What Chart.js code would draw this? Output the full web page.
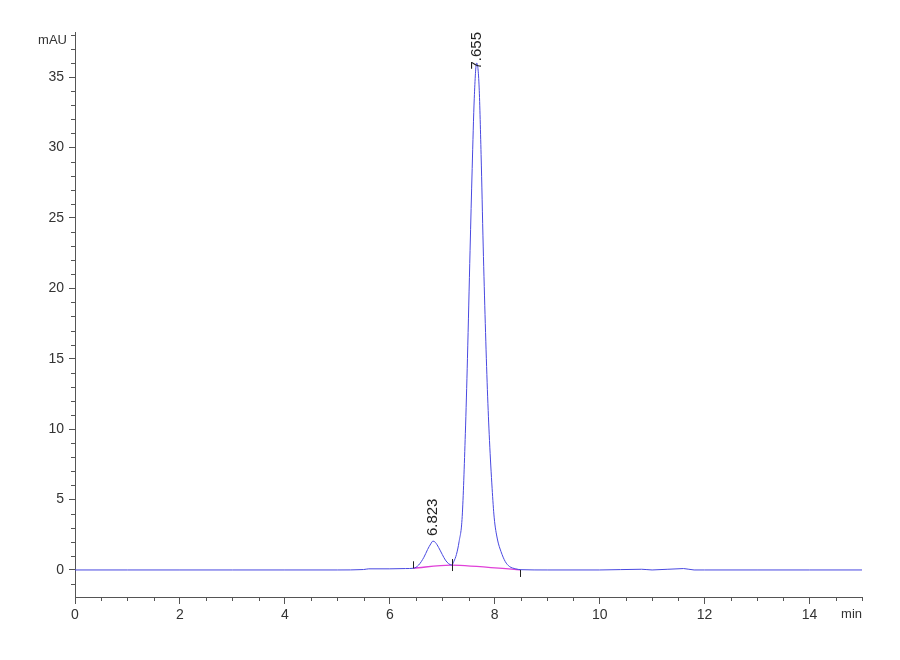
<!DOCTYPE html>
<html>
<head>
<meta charset="utf-8">
<script src="https://cdn.jsdelivr.net/npm/chart.js@4/dist/chart.umd.min.js"></script>
<style>
  body { margin: 0; background: #fff; }
  #wrap { width: 900px; height: 660px; }
</style>
</head>
<body>
<div id="wrap"><canvas id="chromChart"></canvas></div>
<script>
// retention time (min) and detector signal (mAU)
var times  = [0, 1, 2, 3, 4, 5, 5.5, 5.6, 6.0, 6.3, 6.45, 6.55, 6.65, 6.72, 6.78, 6.823, 6.87, 6.93, 7.0, 7.06, 7.12, 7.18,
              7.22, 7.27, 7.32, 7.38, 7.44, 7.48, 7.53, 7.57, 7.61, 7.655, 7.70, 7.74, 7.78, 7.82, 7.86, 7.90, 7.95, 7.99,
              8.05, 8.12, 8.2, 8.28, 8.4, 8.5, 9, 10, 10.8, 11, 11.6, 11.8, 12, 13, 14, 15];
var signal = [0, 0, 0, 0, 0, 0, 0.03, 0.08, 0.08, 0.1, 0.12, 0.35, 0.9, 1.45, 1.85, 2.05, 1.95, 1.6, 1.1, 0.7, 0.45, 0.35,
              0.6, 1.1, 2.0, 3.8, 9.7, 15.0, 22.7, 28.5, 33.5, 36.0, 34.5, 29.5, 23.0, 17.5, 12.8, 9.2, 5.8, 3.7,
              2.2, 1.3, 0.6, 0.25, 0.08, 0.02, 0, 0, 0.05, 0, 0.1, 0, 0, 0, 0, 0];

// integration baseline (magenta) and its event marks
var baseTimes  = [6.45, 7.18, 8.49];
var baseValues = [0.12, 0.35, 0.0];
var markDir    = [-1, 0, 1];   // -1 mark above, 0 centred, 1 below

// peak annotations
var peakTimes   = [6.823, 7.655];
var peakHeights = [2.05, 36.0];
var peakLabels  = ['6.823', '7.655'];

var xTicks = [0, 2, 4, 6, 8, 10, 12, 14];
var yTicks = [0, 5, 10, 15, 20, 25, 30, 35];

var tickFont = "'Liberation Sans Narrow', 'Liberation Sans', Arial, sans-serif";

function toPoints(xs, ys) {
    var pts = [];
    for (var i = 0; i < xs.length; i++) {
        pts.push({ x: xs[i], y: ys[i] });
    }
    return pts;
}

// minor ticks, peak labels, event marks and unit labels
var extrasPlugin = {
    id: 'extras',
    afterDraw: function (chart) {
        var ctx = chart.ctx;
        var xs = chart.scales.x;
        var ys = chart.scales.y;
        var area = chart.chartArea;
        ctx.save();

        // minor ticks
        ctx.strokeStyle = '#555';
        ctx.lineWidth = 1;
        ctx.beginPath();
        for (var t = 0; t <= 15.001; t += 0.5) {
            if (Math.abs(t % 2) < 1e-6) continue;
            var px = Math.round(xs.getPixelForValue(t)) + 0.5;
            ctx.moveTo(px, area.bottom);
            ctx.lineTo(px, area.bottom + 4);
        }
        for (var v = -1; v <= 38; v += 1) {
            if (v % 5 === 0) continue;
            var py = Math.round(ys.getPixelForValue(v)) + 0.5;
            ctx.moveTo(area.left, py);
            ctx.lineTo(area.left - 4, py);
        }
        ctx.stroke();

        // integration event marks
        ctx.strokeStyle = '#222';
        ctx.beginPath();
        for (var i = 0; i < baseTimes.length; i++) {
            var mx = Math.round(xs.getPixelForValue(baseTimes[i])) + 0.5;
            var my = ys.getPixelForValue(baseValues[i]);
            var len = markDir[i] === 0 ? 12 : 7;
            var top = markDir[i] < 0 ? my - len : (markDir[i] > 0 ? my : my - len / 2);
            ctx.moveTo(mx, top);
            ctx.lineTo(mx, top + len);
        }
        ctx.stroke();

        // peak labels, rotated
        ctx.fillStyle = '#222';
        ctx.font = "15px 'Liberation Sans', Arial, sans-serif";
        ctx.textBaseline = 'middle';
        ctx.textAlign = 'left';
        for (var k = 0; k < peakTimes.length; k++) {
            var lx = xs.getPixelForValue(peakTimes[k]);
            var ly = ys.getPixelForValue(peakHeights[k]) - 5;
            var w = ctx.measureText(peakLabels[k]).width;
            if (ly - w < 32) ly = 32 + w;
            ctx.save();
            ctx.translate(lx, ly);
            ctx.rotate(-Math.PI / 2);
            ctx.fillText(peakLabels[k], 0, 0);
            ctx.restore();
        }

        // unit labels
        ctx.font = '13px ' + tickFont;
        ctx.fillStyle = '#333';
        ctx.textAlign = 'right';
        ctx.fillText('mAU', area.left - 8, area.top + 8);
        ctx.textAlign = 'right';
        ctx.textBaseline = 'top';
        ctx.fillText('min', area.right, area.bottom + 11);
        ctx.restore();
    }
};

var ctx = document.getElementById('chromChart').getContext('2d');
var myChart = new Chart(ctx, {
    type: 'line',
    data: {
        datasets: [{
            data: toPoints(times, signal),
            borderColor: '#4848e0',
            borderWidth: 1,
            pointRadius: 0,
            cubicInterpolationMode: 'monotone',
            fill: false
        }, {
            data: toPoints(baseTimes, baseValues),
            borderColor: '#e040d8',
            borderWidth: 1.3,
            pointRadius: 0,
            tension: 0.3,
            fill: false
        }]
    },
    options: {
        responsive: true,
        maintainAspectRatio: false,
        animation: false,
        layout: { padding: { top: 32, right: 38, left: 0, bottom: 0 } },
        plugins: {
            legend: { display: false },
            tooltip: { enabled: false }
        },
        scales: {
            x: {
                type: 'linear',
                min: 0,
                max: 15,
                afterBuildTicks: function (scale) {
                    scale.ticks = xTicks.map(function (v) { return { value: v }; });
                },
                afterFit: function (scale) { scale.height = 63; },
                grid: { display: true, drawOnChartArea: false, tickLength: 7, color: '#555' },
                border: { display: true, color: '#555', width: 1 },
                ticks: {
                    color: '#333',
                    padding: 3,
                    maxRotation: 0,
                    font: { family: tickFont, size: 14 }
                }
            },
            y: {
                type: 'linear',
                min: -1.92,
                max: 38.2,
                afterBuildTicks: function (scale) {
                    scale.ticks = yTicks.map(function (v) { return { value: v }; });
                },
                afterFit: function (scale) { scale.width = 75; },
                grid: { display: true, drawOnChartArea: false, tickLength: 6, color: '#555' },
                border: { display: true, color: '#555', width: 1 },
                ticks: {
                    color: '#333',
                    padding: 5,
                    font: { family: tickFont, size: 14 }
                }
            }
        }
    },
    plugins: [extrasPlugin]
});
</script>
</body>
</html>
